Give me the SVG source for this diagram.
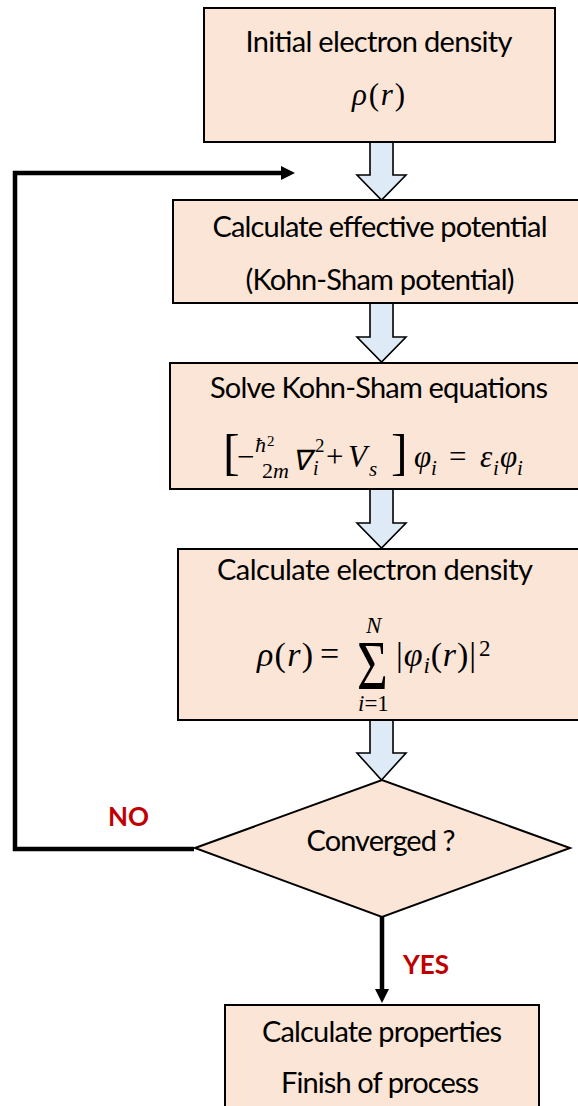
<svg xmlns="http://www.w3.org/2000/svg" width="578" height="1106" viewBox="0 0 578 1106">
<style>
.box{fill:#FBE5D6;stroke:#000;stroke-width:2}
.blk{fill:#DEEBF7;stroke:#000;stroke-width:1.6;stroke-linejoin:miter}
.t{font-family:Lato,"Liberation Sans",sans-serif;font-size:29px;fill:#000;text-anchor:middle}
.lbl{font-family:Lato,"Liberation Sans",sans-serif;font-size:26px;font-weight:bold;fill:#C00000}
.m{font-family:"Liberation Serif",serif;font-style:italic;font-size:31px;fill:#000}
.u{font-family:"Liberation Serif",serif;font-style:normal;font-size:31px;fill:#000}
.flow{fill:none;stroke:#000;stroke-width:4.5}
</style>
<defs>
<marker id="ah" markerUnits="userSpaceOnUse" markerWidth="15" markerHeight="15" refX="8" refY="7" orient="auto">
<path d="M0,0 L14,7 L0,14 z" fill="#000"/>
</marker>
</defs>

<g id="connectors">
<polygon class="blk" points="370,142 393,142 393,175 406,175 381.5,200 357,175 370,175"/>
<polygon class="blk" points="370,303 393,303 393,337 406,337 381.5,362 357,337 370,337"/>
<polygon class="blk" points="370,489 393,489 393,523 406,523 381.5,548 357,523 370,523"/>
<polygon class="blk" points="370,720 393,720 393,753 406,753 381.5,780 357,753 370,753"/>
<path class="flow" d="M194,849 H15 V173 H289" marker-end="url(#ah)"/>
<path class="flow" d="M382,917 V997" marker-end="url(#ah)"/>
<text class="lbl" x="108" y="826">NO</text>
<text class="lbl" x="403" y="974">YES</text>
</g>

<g id="n1">
<rect class="box" x="204" y="8" width="351" height="134"/>
<text class="t" x="379" y="52" textLength="267">Initial electron density</text>
<text x="352" y="105" class="m" textLength="53">ρ<tspan class="u">(</tspan>r<tspan class="u">)</tspan></text>
</g>

<g id="n2">
<rect class="box" x="173" y="200" width="412" height="103"/>
<text class="t" x="380" y="237" textLength="335">Calculate effective potential</text>
<text class="t" x="380" y="290" textLength="269">(Kohn-Sham potential)</text>
</g>

<g id="n3">
<rect class="box" x="170" y="363" width="415" height="126"/>
<text class="t" x="379" y="398" textLength="338">Solve Kohn-Sham equations</text>
<text class="u" x="223" y="469" style="font-size:50px">[</text>
<text class="u" x="237" y="467">−</text>
<text class="m" x="255" y="452" style="font-size:22px">ħ</text>
<text class="u" x="267" y="446" style="font-size:15px">2</text>
<text class="u" x="262" y="478" style="font-size:22px">2<tspan class="m" style="font-size:22px">m</tspan></text>
<text class="m" x="292" y="470" style="font-size:28px">∇</text>
<text class="u" x="315" y="452" style="font-size:19px">2</text>
<text class="m" x="313" y="475" style="font-size:20px">i</text>
<text class="u" x="326" y="467">+</text>
<text class="m" x="348" y="467">V</text>
<text class="m" x="369" y="476" style="font-size:21px">s</text>
<text class="u" x="391" y="469" style="font-size:50px">]</text>
<text class="m" x="414" y="467">φ</text>
<text class="m" x="431" y="475" style="font-size:21px">i</text>
<text class="u" x="449" y="467">=</text>
<text class="m" x="480" y="467">ε</text>
<text class="m" x="493" y="475" style="font-size:21px">i</text>
<text class="m" x="500" y="467">φ</text>
<text class="m" x="517" y="475" style="font-size:21px">i</text>
</g>

<g id="n4">
<rect class="box" x="178" y="549" width="407" height="171"/>
<text class="t" x="375" y="580" textLength="316">Calculate electron density</text>
<text x="257" y="666" class="m" style="font-size:34px" textLength="56">ρ<tspan class="u" style="font-size:34px">(</tspan>r<tspan class="u" style="font-size:34px">)</tspan></text>
<text class="u" x="320" y="665" style="font-size:34px">=</text>
<text class="u" transform="translate(357,689) scale(0.8,1.05)" style="font-size:66px">Σ</text>
<text class="m" x="366" y="633" style="font-size:23px">N</text>
<text class="m" x="358" y="711" style="font-size:23px">i<tspan class="u" style="font-size:23px">=1</tspan></text>
<text x="396" y="666" class="u" style="font-size:34px" textLength="80">|<tspan class="m" style="font-size:34px">φ</tspan><tspan class="m" style="font-size:23px" dy="7">i</tspan><tspan dy="-7">(</tspan><tspan class="m" style="font-size:34px">r</tspan>)|</text>
<text class="u" x="479" y="656" style="font-size:23px">2</text>
</g>

<g id="n5">
<polygon class="box" points="195,848 382,780 570,848 382,917"/>
<text class="t" x="381" y="851" textLength="149">Converged ?</text>
</g>

<g id="n6">
<rect class="box" x="225" y="1005" width="314" height="110"/>
<text class="t" x="382" y="1042" textLength="240">Calculate properties</text>
<text class="t" x="380" y="1093" textLength="198">Finish of process</text>
</g>
</svg>
